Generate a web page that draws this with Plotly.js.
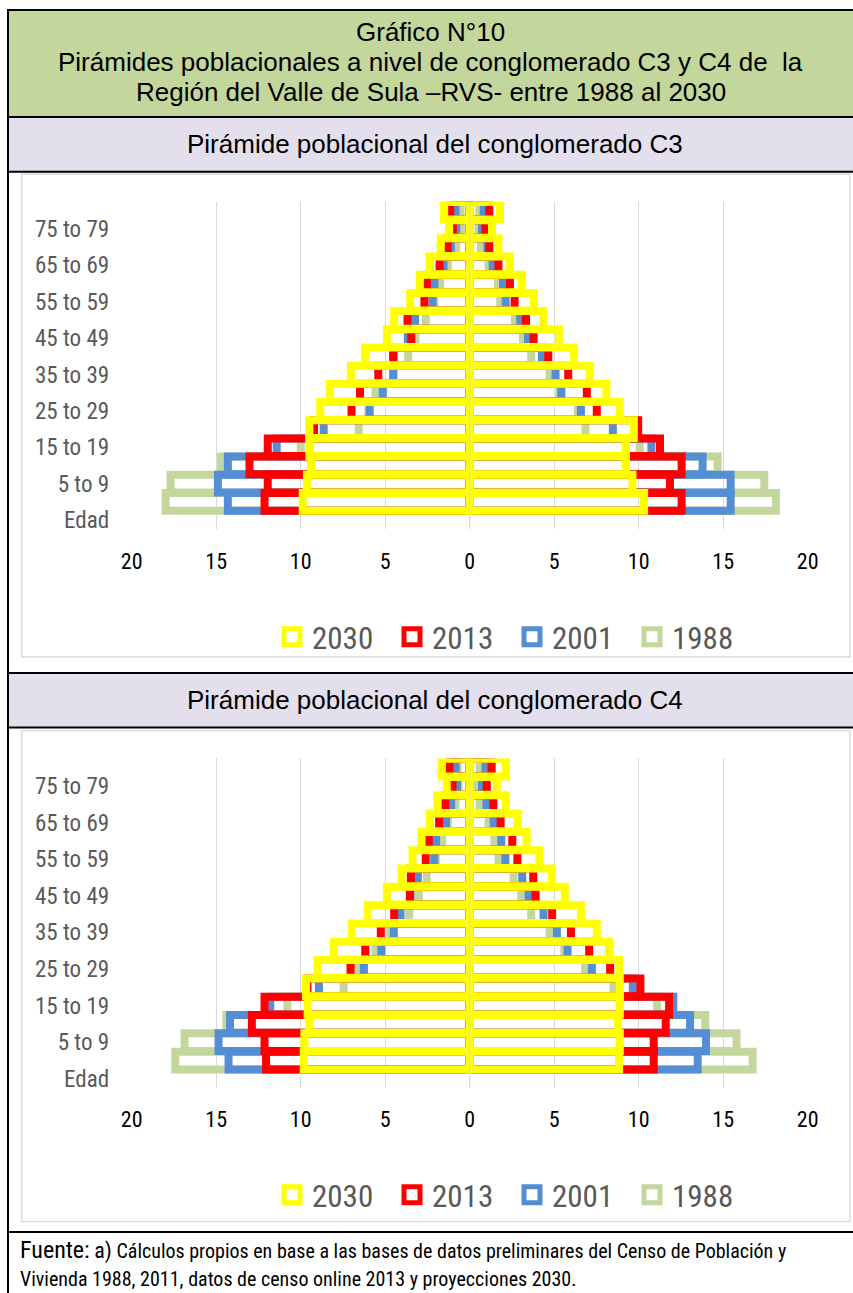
<!DOCTYPE html>
<html><head><meta charset="utf-8">
<script src="https://cdn.plot.ly/plotly-3.0.1.min.js"></script>
<style>html,body{margin:0;padding:0;background:#fff}#chart{width:853px;height:1293px}</style>
</head><body><div id="chart"></div>
<script>
// ---------- DATA ----------
var ageGroups = ["Edad","0 to 4","5 to 9","10 to 14","15 to 19","20 to 24","25 to 29","30 to 34","35 to 39","40 to 44","45 to 49","50 to 54","55 to 59","60 to 64","65 to 69","70 to 74","75 to 79","80 +"];
var dataAges = ageGroups.slice(1);            // groups with values (0 to 4 ... 80 +)
var years = ["1988","2001","2013","2030"];
var xTickVals = [-20,-15,-10,-5,0,5,10,15,20];
var xTickText = ["20","15","10","5","0","5","10","15","20"];

// Conglomerado C3 (% of population), left side and right side of the pyramid
var c3Left1988 = [17.99,17.70,14.71,10.00,6.57,6.00,5.57,4.50,3.64,3.21,2.60,2.10,1.75,1.30,0.80,0.52,0.55];
var c3Left2001 = [14.31,14.90,14.31,11.42,8.64,5.92,5.14,4.53,4.50,3.66,3.23,2.20,2.09,1.55,1.12,0.80,0.84];
var c3Left2013 = [12.14,11.95,13.03,11.95,9.21,6.99,6.49,5.41,4.53,3.46,3.68,2.68,2.53,1.78,1.30,1.00,1.15];
var c3Left2030 = [9.88,9.63,9.39,9.49,9.49,8.84,8.27,7.03,6.20,4.90,4.47,3.52,2.95,2.36,1.71,1.22,1.51];
var c3Right1988 = [18.12,17.43,14.67,10.06,6.85,6.40,5.30,4.73,3.64,3.15,2.68,1.81,1.68,1.12,0.67,0.53,0.57];
var c3Right2001 = [15.44,15.44,13.78,10.75,8.47,6.58,5.42,5.08,4.27,3.45,2.99,2.13,1.97,1.36,1.05,0.73,0.83];
var c3Right2013 = [12.54,11.85,12.54,11.26,9.97,7.52,6.93,5.83,4.65,3.78,3.33,2.66,2.38,1.70,1.16,0.93,1.16];
var c3Right2030 = [10.32,9.63,9.24,9.24,9.71,8.88,8.09,7.11,6.17,5.28,4.35,3.80,3.07,2.38,1.70,1.32,1.79];

// Conglomerado C4
var c4Left1988 = [17.42,16.87,14.40,10.79,7.46,6.60,5.57,4.70,3.58,3.01,2.54,2.00,1.63,1.30,0.84,0.65,0.71];
var c4Left2001 = [14.27,14.86,14.18,11.80,8.92,6.26,5.23,4.49,4.09,3.50,3.07,2.10,1.99,1.40,1.10,0.75,0.84];
var c4Left2013 = [12.05,12.14,12.89,12.14,9.60,7.05,6.18,5.26,4.47,3.54,3.48,2.60,2.42,1.81,1.44,1.02,1.20];
var c4Left2030 = [9.82,9.78,9.49,9.59,9.69,9.00,8.05,6.99,6.04,4.90,4.03,3.38,2.85,2.36,1.91,1.36,1.65];
var c4Right1988 = [16.74,15.79,13.94,11.09,8.51,6.83,5.60,4.73,3.64,3.05,2.60,1.71,1.46,1.12,0.59,0.47,0.59];
var c4Right2001 = [13.49,13.98,13.04,12.05,9.65,7.23,5.79,5.16,4.37,3.49,3.11,2.11,1.87,1.42,0.99,0.73,0.93];
var c4Right2013 = [10.89,10.89,11.60,11.80,10.10,8.31,7.07,5.99,4.88,3.90,3.76,2.82,2.52,1.83,1.40,1.01,1.30];
var c4Right2030 = [8.84,8.88,8.78,8.88,8.88,8.84,8.25,7.52,6.58,5.63,4.85,4.12,3.37,2.84,2.15,1.60,2.15];

// ---------- STYLE ----------
var yearColors = {"1988":"#C3D69B","2001":"#558ED5","2013":"#FF0000","2030":"#FFFF00"};
var COND = "Roboto Condensed, Liberation Sans, sans-serif";
var SANS = "Liberation Sans, Arial, sans-serif";
var W = 853, H = 1293;
function px(x){return x/W;}
function py(y){return 1 - y/H;}

var c3 = {left:{"1988":c3Left1988,"2001":c3Left2001,"2013":c3Left2013,"2030":c3Left2030},
          right:{"1988":c3Right1988,"2001":c3Right2001,"2013":c3Right2013,"2030":c3Right2030}};
var c4 = {left:{"1988":c4Left1988,"2001":c4Left2001,"2013":c4Left2013,"2030":c4Left2030},
          right:{"1988":c4Right1988,"2001":c4Right2001,"2013":c4Right2013,"2030":c4Right2030}};

var traces = [];
function addPyramid(set, xa, ya, leg){
  years.forEach(function(yr){
    ["left","right"].forEach(function(side){
      var vals = set[side][yr];
      traces.push({
        type:"bar", orientation:"h",
        x: vals.map(function(v){return side==="left" ? -v : v;}),
        y: dataAges,
        xaxis: xa, yaxis: ya, legend: leg,
        name: yr, legendgroup: leg+yr, showlegend: false,
        marker:{color:"rgba(0,0,0,0)", line:{color:yearColors[yr], width:8}},
        hoverinfo:"skip"
      });
    });
  });
  // legend keys (outlined squares, like the spreadsheet legend)
  years.forEach(function(yr){
    traces.push({type:"scatter", mode:"markers", x:[null], y:[null], xaxis:xa, yaxis:ya, legend:leg,
      name:yr, legendgroup:leg+yr, showlegend:true, hoverinfo:"skip",
      marker:{symbol:"square", size:16, color:"#FFFFFF", line:{color:yearColors[yr], width:6}}});
  });
}
addPyramid(c3, "x", "y", "legend");
addPyramid(c4, "x2", "y2", "legend2");

var evenTicks = ageGroups.filter(function(a,i){return i%2===0;});

function xAxis(dom, anchor){
  return {domain:dom, anchor:anchor, range:[-20,20], tickmode:"array", tickvals:xTickVals, ticktext:xTickText,
    showgrid:true, gridcolor:"#D9D9D9", gridwidth:1.2, zeroline:false, showline:false,
    ticks:"outside", ticklen:12, tickcolor:"rgba(0,0,0,0)",
    tickfont:{family:COND, size:22, color:"#000000"}, fixedrange:true};
}
function yAxis(dom, anchor){
  return {domain:dom, anchor:anchor, type:"category", categoryorder:"array", categoryarray:ageGroups,
    range:[-0.5, ageGroups.length-0.5], tickmode:"array", tickvals:evenTicks, ticktext:evenTicks,
    showgrid:false, zeroline:false, showline:false,
    ticks:"outside", ticklen:17, tickcolor:"rgba(0,0,0,0)",
    tickfont:{family:COND, size:23, color:"#595959"}, fixedrange:true};
}

var xDom = [px(131.7), px(807.7)];
var legendBase = {orientation:"h", traceorder:"reversed", xanchor:"center", yanchor:"middle",
    font:{family:COND, size:31, color:"#595959"}, entrywidth:75, bgcolor:"rgba(0,0,0,0)", itemclick:false, itemdoubleclick:false};
var layout = {
  width:W, height:H, margin:{l:0,r:0,t:0,b:0}, paper_bgcolor:"#FFFFFF", plot_bgcolor:"rgba(0,0,0,0)",
  barmode:"overlay", bargap:0.03, showlegend:true,
  xaxis: xAxis(xDom, "y"), yaxis: yAxis([py(529.1), py(201.7)], "x"),
  xaxis2: xAxis(xDom, "y2"), yaxis2: yAxis([py(1088), py(758.4)], "x2"),
  legend: Object.assign({}, legendBase, {x:px(512), y:py(637)}),
  legend2: Object.assign({}, legendBase, {x:px(512), y:py(1195)}),
  shapes:[], annotations:[]
};

var S = layout.shapes, A = layout.annotations;
function rect(x0,y0,x1,y1,fill,lc,lw){S.push({type:"rect",xref:"paper",yref:"paper",x0:px(x0),x1:px(x1),y0:py(y1),y1:py(y0),fillcolor:fill,line:{color:lc,width:lw},layer:"below"});}
function hline(y,x0,x1){S.push({type:"line",xref:"paper",yref:"paper",x0:px(x0),x1:px(x1),y0:py(y),y1:py(y),line:{color:"#000000",width:2},layer:"above"});}
// section fills
rect(8,10,856,117,"#C3D69B","rgba(0,0,0,0)",0);
rect(8,117,856,171.7,"#E4DFEC","rgba(0,0,0,0)",0);
rect(8,673,856,727.5,"#E4DFEC","rgba(0,0,0,0)",0);
// chart frames
rect(21.8,174,850,657,"rgba(0,0,0,0)","#D9D9D9",1.3);
rect(21.8,730.7,850,1221.7,"rgba(0,0,0,0)","#D9D9D9",1.3);
// table lines
[10,117,171.7,673,727.5,1232].forEach(function(y){hline(y,7,856);});
S.push({type:"line",xref:"paper",yref:"paper",x0:px(8),x1:px(8),y0:py(9),y1:py(1296),line:{color:"#000000",width:2},layer:"above"});
// vertical axis line at 0 (drawn over the bars, as in the original)
S.push({type:"line",xref:"x",yref:"y domain",x0:0,x1:0,y0:0,y1:1,line:{color:"#D9D9D9",width:1.3},layer:"above"});
S.push({type:"line",xref:"x2",yref:"y2 domain",x0:0,x1:0,y0:0,y1:1,line:{color:"#D9D9D9",width:1.3},layer:"above"});

function txt(t,x,y,size,fam,anchor,color){A.push({xref:"paper",yref:"paper",x:px(x),y:py(y),xanchor:anchor||"center",yanchor:"middle",text:t,showarrow:false,font:{family:fam,size:size,color:color||"#000000"}});}
txt("Gráfico N°10",430.5,32,26,SANS);
txt("Pirámides poblacionales a nivel de conglomerado C3 y C4 de  la",430.5,62,26,SANS);
txt("Región del Valle de Sula –RVS- entre 1988 al 2030",430.5,92,26,SANS);
txt("Pirámide poblacional del conglomerado C3",435,144,26,SANS);
txt("Pirámide poblacional del conglomerado C4",435,700,26,SANS);
txt("<span style='font-size:24px'>Fuente:</span> <span style='font-size:22px'>a)</span> Cálculos propios en base a las bases de datos preliminares del Censo de Población y",18,1250,20,COND,"left");
txt("Vivienda 1988, 2011, datos de censo online 2013 y proyecciones 2030.",18,1279,20,COND,"left");

Plotly.newPlot("chart", traces, layout, {displayModeBar:false, staticPlot:true});
</script></body></html>
